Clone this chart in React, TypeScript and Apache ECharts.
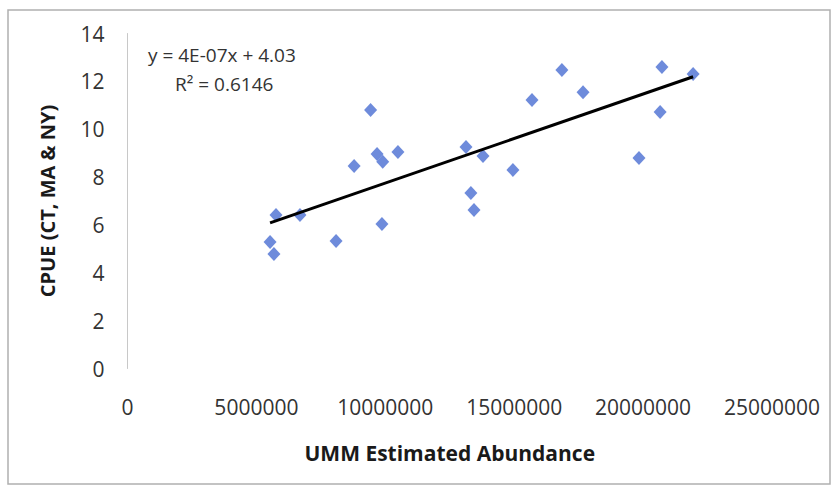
import React, { useEffect, useRef } from "react";
import * as echarts from "echarts";

// UMM estimated abundance (x) vs CPUE (y)
const abundance: number[] = [
  5530000, 5680000, 5760000, 6690000, 8090000, 8790000, 9430000, 9680000,
  9900000, 9870000, 10490000, 13130000, 13320000, 13440000, 13790000,
  14950000, 15690000, 16850000, 17670000, 19840000, 20660000, 20730000,
  21940000,
];
const cpue: number[] = [
  5.29, 4.78, 6.41, 6.41, 5.33, 8.46, 10.8, 8.96, 8.64, 6.04, 9.05, 9.26,
  7.33, 6.62, 8.88, 8.3, 11.22, 12.47, 11.55, 8.8, 10.72, 12.6, 12.31,
];

const xTicks: number[] = [0, 5000000, 10000000, 15000000, 20000000, 25000000];
const yTicks: number[] = [0, 2, 4, 6, 8, 10, 12, 14];

const trendSlope = 3.72e-7;
const trendIntercept = 4.03;
const equationLines: string[] = ["y = 4E-07x + 4.03", "R² = 0.6146"];

const xName = "UMM Estimated Abundance";
const yName = "CPUE (CT, MA & NY)";

export default function App() {
  const ref = useRef<HTMLDivElement>(null);
  useEffect(() => {
    if (!ref.current) return;
    const chart = echarts.init(ref.current, undefined, { renderer: "svg" });
    const points = abundance.map((x, i) => [x, cpue[i]]);
    const xMin = Math.min(...abundance);
    const xMax = Math.max(...abundance);
    const trend = [
      [xMin, trendSlope * xMin + trendIntercept],
      [xMax, trendSlope * xMax + trendIntercept],
    ];
    const font = "'Open Sans', sans-serif";
    chart.setOption({
      animation: false,
      backgroundColor: "#ffffff",
      grid: { left: 127.5, right: 60, top: 33.5, bottom: 116.5 },
      xAxis: {
        type: "value",
        min: xTicks[0],
        max: xTicks[xTicks.length - 1],
        interval: xTicks[1] - xTicks[0],
        name: xName,
        nameLocation: "middle",
        nameGap: 74,
        nameTextStyle: { fontFamily: font, fontSize: 21, fontWeight: "bold", color: "#1a1a1a" },
        axisLine: { show: false },
        axisTick: { show: false },
        splitLine: { show: false },
        axisLabel: {
          margin: 28,
          fontFamily: font,
          fontSize: 21,
          color: "#333333",
          formatter: (v: number) => String(v),
        },
      },
      yAxis: {
        type: "value",
        min: yTicks[0],
        max: yTicks[yTicks.length - 1],
        interval: yTicks[1] - yTicks[0],
        name: yName,
        nameLocation: "middle",
        nameRotate: 90,
        nameGap: 70,
        nameTextStyle: { fontFamily: font, fontSize: 20, fontWeight: "bold", color: "#1a1a1a" },
        axisLine: { show: true, lineStyle: { color: "#c8c8c8", width: 1 } },
        axisTick: { show: false },
        splitLine: { show: false },
        axisLabel: {
          margin: 23,
          fontFamily: font,
          fontSize: 21,
          color: "#333333",
        },
      },
      series: [
        {
          type: "scatter",
          data: points,
          symbol: "diamond",
          symbolSize: [13, 14],
          itemStyle: { color: "#4a6ed2" },
          z: 3,
        },
        {
          type: "line",
          data: trend,
          symbol: "none",
          lineStyle: { color: "#000000", width: 3 },
          z: 4,
        },
      ],
      graphic: [
        {
          type: "rect",
          shape: { x: 8, y: 10, width: 822, height: 474 },
          style: { fill: "none", stroke: "#b0b0b0", lineWidth: 1.5 },
          silent: true,
        },
        {
          type: "text",
          left: 148,
          top: 45,
          style: { text: equationLines[0], fontFamily: font, fontSize: 19, fill: "#333333" },
        },
        {
          type: "text",
          left: 175,
          top: 74,
          style: { text: equationLines[1], fontFamily: font, fontSize: 19, fill: "#333333" },
        },
      ],
    });
    return () => chart.dispose();
  }, []);
  return (
    <div
      ref={ref}
      style={{ position: "absolute", left: 0, top: 0, width: 832, height: 485 }}
    />
  );
}
